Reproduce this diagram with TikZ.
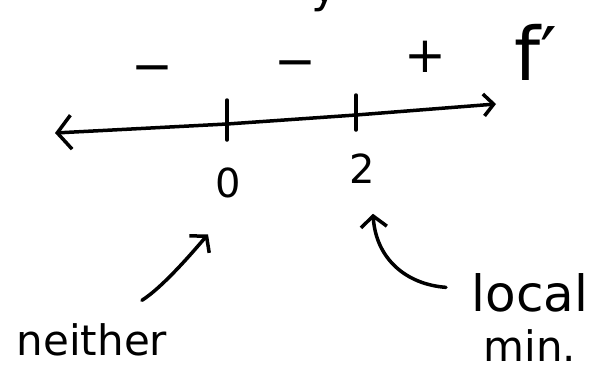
\documentclass[tikz,border=0pt]{standalone}
\usepackage{fontspec}
\setmainfont{DejaVu Sans}
\usetikzlibrary{arrows.meta, positioning}

\begin{document}
\begin{tikzpicture}[x=1pt, y=1pt, line width=3.5pt, line cap=round, line join=round]
        \tikzset{
          signlbl/.style={font=\fontsize{50}{50}\selectfont, inner sep=0pt},
          ticklbl/.style={font=\fontsize{40}{40}\selectfont, inner sep=0pt,
                          anchor=base},
          notelbl/.style={font=\fontsize{42}{44}\selectfont, inner sep=0pt,
                          anchor=base},
          barb/.style={-{Straight Barb[length=11pt, width=26pt]}}
        }
        \clip (0,0) rectangle (591,-375);

        % number line
        \coordinate (lend) at (55,-133);
        \coordinate (t0)   at (227,-124);
        \coordinate (t2)   at (356,-115);
        \coordinate (rend) at (496,-104);
        \draw[{Straight Barb[length=14pt, width=34pt]}-{Straight Barb[length=10pt, width=22pt]}]
              (lend) -- (t0) -- (t2) -- (rend);
        \draw (t0) ++(0,24) -- ++(0,-40);
        \draw (t2) ++(0,20) -- ++(0,-35);
        \node[ticklbl] (lbl0) at (228,-197) {0};
        \node[ticklbl] (lbl2) at (362,-183) {2};

        % signs of f'
        \node[signlbl] (sgnA) at (152,-75) {−};
        \node[signlbl] (sgnB) at (295,-70) {−};
        \node[signlbl] (sgnC) at (425,-57) {+};
        \node[signlbl, font=\fontsize{74}{74}\selectfont, anchor=base]
              (fprime) at (536,-80) {f′};
        \node[notelbl, font=\fontsize{45}{45}\selectfont] (ytop) at (325,-2) {y};

        % notes
        \node[notelbl] (nei) at (92,-355) {neither};
        \node[notelbl, font=\fontsize{50}{50}\selectfont] (loc) at (530,-311) {local};
        \node[notelbl, below=14pt of loc] (mn) {min.};

        \draw[barb] ([xshift=-27pt, yshift=21pt]nei.north east)
              .. controls +(22,14) and +(-12,-14) .. ([xshift=-20pt, yshift=-35pt]lbl0.south);
        \draw[barb] ([xshift=-24pt, yshift=5pt]loc.west)
              .. controls +(-40,3) and +(3,-45) .. ([xshift=11pt, yshift=-29pt]lbl2.south);
      \end{tikzpicture}
\end{document}
